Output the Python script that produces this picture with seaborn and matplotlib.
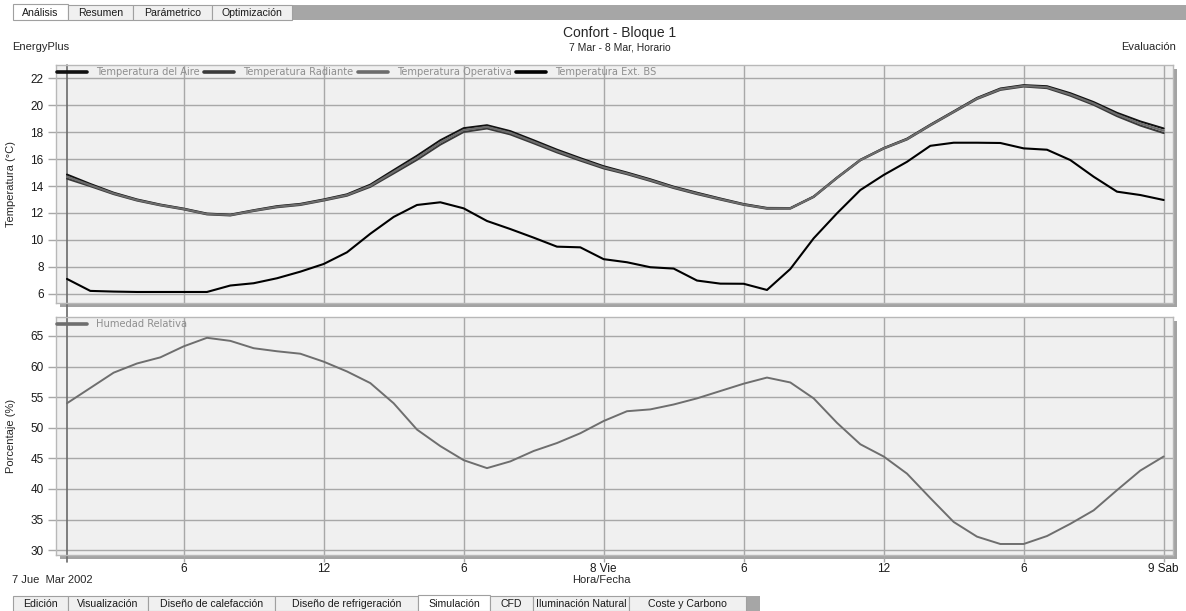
import matplotlib
matplotlib.use("Agg")
import matplotlib.pyplot as plt
import seaborn as sns
import pandas as pd
from matplotlib.patches import Rectangle
from matplotlib.lines import Line2D

# ---- data: hourly values, 7 Mar 01:00 .. 9 Mar 00:00 ----
hours = list(range(1, 49))

temp_aire = [14.85, 14.15, 13.50, 13.00, 12.62, 12.32, 11.95, 11.87, 12.20, 12.50,
             12.67, 13.00, 13.38, 14.10, 15.18, 16.25, 17.40, 18.30, 18.52, 18.08,
             17.40, 16.70, 16.07, 15.47, 15.00, 14.50, 13.95, 13.50, 13.07, 12.66,
             12.37, 12.36, 13.22, 14.63, 15.95, 16.82, 17.52, 18.56, 19.55, 20.55,
             21.25, 21.50, 21.42, 20.90, 20.24, 19.44, 18.80, 18.28]
temp_radiante = [14.55, 13.99, 13.40, 12.92, 12.56, 12.26, 11.89, 11.81, 12.14, 12.42,
                 12.59, 12.92, 13.28, 13.94, 14.94, 15.95, 17.08, 18.02, 18.28, 17.84,
                 17.18, 16.50, 15.89, 15.31, 14.88, 14.38, 13.85, 13.40, 12.99, 12.60,
                 12.31, 12.32, 13.18, 14.59, 15.91, 16.78, 17.46, 18.50, 19.49, 20.47,
                 21.15, 21.40, 21.28, 20.72, 20.04, 19.20, 18.50, 17.94]
temp_operativa = [14.70, 14.07, 13.45, 12.96, 12.59, 12.29, 11.92, 11.84, 12.17, 12.46,
                  12.63, 12.96, 13.33, 14.02, 15.06, 16.10, 17.24, 18.16, 18.40, 17.96,
                  17.29, 16.60, 15.98, 15.39, 14.94, 14.44, 13.90, 13.45, 13.03, 12.63,
                  12.34, 12.34, 13.20, 14.61, 15.93, 16.80, 17.49, 18.53, 19.52, 20.51,
                  21.20, 21.45, 21.35, 20.81, 20.14, 19.32, 18.65, 18.11]
temp_ext_bs = [7.09, 6.20, 6.15, 6.12, 6.12, 6.12, 6.12, 6.60, 6.77, 7.14,
               7.63, 8.20, 9.07, 10.45, 11.70, 12.59, 12.79, 12.34, 11.40, 10.80,
               10.16, 9.49, 9.44, 8.56, 8.33, 7.96, 7.86, 6.97, 6.74, 6.73,
               6.27, 7.83, 10.11, 11.97, 13.70, 14.82, 15.80, 16.99, 17.22, 17.22,
               17.20, 16.80, 16.70, 15.93, 14.69, 13.58, 13.33, 12.96]
humedad_relativa = [54.0, 56.5, 59.0, 60.5, 61.5, 63.3, 64.7, 64.2, 63.0, 62.5,
                    62.1, 60.8, 59.2, 57.3, 54.0, 49.7, 47.0, 44.7, 43.4, 44.5,
                    46.2, 47.5, 49.1, 51.1, 52.7, 53.0, 53.8, 54.8, 56.0, 57.2,
                    58.2, 57.4, 54.8, 50.8, 47.3, 45.3, 42.5, 38.5, 34.6, 32.2,
                    31.0, 31.0, 32.3, 34.3, 36.5, 39.8, 43.0, 45.3]

temp_names = ["Temperatura del Aire", "Temperatura Radiante",
              "Temperatura Operativa", "Temperatura Ext. BS"]
hum_name = "Humedad Relativa"

x_ticks = [6, 12, 18, 24, 30, 36, 42, 48]
x_tick_labels = ["6", "12", "6", "8 Vie", "6", "12", "6", "9 Sab"]
temp_ticks = [6, 8, 10, 12, 14, 16, 18, 20, 22]
hum_ticks = [30, 35, 40, 45, 50, 55, 60, 65]

top_tabs = ["Análisis", "Resumen", "Parámetrico", "Optimización"]
bottom_tabs = ["Edición", "Visualización", "Diseño de calefacción",
               "Diseño de refrigeración", "Simulación", "CFD",
               "Iluminación Natural", "Coste y Carbono"]

# ---- layout helpers (pixel coordinates measured from the top-left) ----
W, H = 1186, 611
sns.set_theme(style="white")
plt.rcParams["font.family"] = ["Liberation Sans", "DejaVu Sans"]

fig = plt.figure(figsize=(W / 100, H / 100), dpi=100)
fig.patch.set_facecolor("white")


def box(x0, y0, x1, y1):
    return [x0 / W, 1 - y1 / H, (x1 - x0) / W, (y1 - y0) / H]


def rect(x0, y0, x1, y1, fc, ec="none", lw=0.0, z=-1):
    fig.patches.append(Rectangle((x0 / W, 1 - y1 / H), (x1 - x0) / W, (y1 - y0) / H,
                                 transform=fig.transFigure, facecolor=fc,
                                 edgecolor=ec, linewidth=lw, zorder=z))


def tab_strip(labels, edges, y0, y1, selected, end_gray):
    for i, lab in enumerate(labels):
        xa, xb = edges[i], edges[i + 1]
        sel = (i == selected)
        rect(xa, y0 - (1 if sel else 0), xb, y1, "white" if sel else "#f0f0f0",
             ec="#a0a0a0", lw=0.8, z=2)
        fig.text((xa + xb) / 2 / W, 1 - ((y0 + y1) / 2 + 0.5) / H, lab,
                 ha="center", va="center", fontsize=7.6, color="#1a1a1a", zorder=3)
    rect(edges[-1], y0, end_gray, y1, "#a6a6a6", z=1)


# tab strips
tab_strip(top_tabs, [13, 68, 133, 212, 292], 5, 20, 0, W)
tab_strip(bottom_tabs, [13, 68, 148, 275, 418, 490, 533, 629, 746], 596, 611, 4, 760)

# titles
fig.text(620 / W, 1 - 33 / H, "Confort - Bloque 1", ha="center", va="center", fontsize=10)
fig.text(620 / W, 1 - 47 / H, "7 Mar - 8 Mar, Horario", ha="center", va="center", fontsize=7.5)
fig.text(12 / W, 1 - 47 / H, "EnergyPlus", ha="left", va="center", fontsize=8)
fig.text(1176 / W, 1 - 47 / H, "Evaluación", ha="right", va="center", fontsize=8)
fig.text(12 / W, 1 - 580 / H, "7 Jue  Mar 2002", ha="left", va="center", fontsize=8)
fig.text(601 / W, 1 - 580 / H, "Hora/Fecha", ha="center", va="center", fontsize=8)

# panel shadows
rect(60, 69, 1177, 307, "#a3a3a3")
rect(60, 321, 1177, 559, "#a3a3a3")

ax_t = fig.add_axes(box(56, 65, 1173, 303))
ax_h = fig.add_axes(box(56, 317, 1173, 555))

temp_colors = ["#111111", "#3a3a3a", "#6c6c6c", "#000000"]
temp_series = [temp_aire, temp_radiante, temp_operativa, temp_ext_bs]
df_t = pd.DataFrame({
    "Hora": hours * 4,
    "Valor": sum(temp_series, []),
    "Serie": [n for n in temp_names for _ in hours],
})
sns.lineplot(data=df_t, x="Hora", y="Valor", hue="Serie", hue_order=temp_names,
             palette=dict(zip(temp_names, temp_colors)), linewidth=1.5,
             ax=ax_t, legend=False)

df_h = pd.DataFrame({"Hora": hours, "Valor": humedad_relativa})
sns.lineplot(data=df_h, x="Hora", y="Valor", color="#6e6e6e", linewidth=1.4,
             ax=ax_h, legend=False)

grid_c = "#a8a8a8"
for ax, yt, ylim in [(ax_t, temp_ticks, (5.3, 23.0)), (ax_h, hum_ticks, (29.2, 68.1))]:
    ax.set_facecolor("#f0f0f0")
    ax.set_xlim(0.53, 48.4)
    ax.set_ylim(*ylim)
    ax.set_xticks(x_ticks)
    ax.set_yticks(yt)
    ax.grid(True, color=grid_c, linewidth=1.0)
    ax.set_axisbelow(True)
    for s in ax.spines.values():
        s.set_color("#b8b8b8")
        s.set_linewidth(1.0)
    ax.tick_params(axis="y", left=True, length=6, width=1, color=grid_c,
                   labelsize=8.5, pad=3, labelcolor="#1a1a1a")
    ax.set_xlabel("")

ax_t.tick_params(axis="x", bottom=False, labelbottom=False)
ax_h.tick_params(axis="x", bottom=True, length=5, width=1, color=grid_c,
                 labelsize=8.5, pad=1, labelcolor="#1a1a1a")
ax_h.set_xticklabels(x_tick_labels)

ax_t.set_ylabel("Temperatura (°C)", fontsize=8)
ax_h.set_ylabel("Porcentaje (%)", fontsize=8)
ax_t.yaxis.set_label_coords(-0.036, 0.5)
ax_h.yaxis.set_label_coords(-0.036, 0.5)

# start-of-period marker running through both panels
ax_t.axvline(hours[0], ymin=-0.06, ymax=1, color="#6a6a6a", lw=1.2, clip_on=False, zorder=1)
ax_h.axvline(hours[0], ymin=-0.03, ymax=1, color="#6a6a6a", lw=1.2, clip_on=False, zorder=1)

# legends along the top edge of each panel
leg_kw = dict(loc="upper left", bbox_to_anchor=(0.0, 0.996), frameon=False,
              handlelength=3.0, handletextpad=0.95, borderaxespad=0.0,
              borderpad=0.15, labelcolor="#8e8e8e", prop={"family": "DejaVu Sans", "size": 7.1})
handles_t = [Line2D([], [], color=c, lw=2.6) for c in temp_colors]
ax_t.legend(handles_t, temp_names, ncol=4, columnspacing=0.45, **leg_kw)
ax_h.legend([Line2D([], [], color="#6e6e6e", lw=2.6)], [hum_name], **leg_kw)

fig.savefig("out.png", dpi=100, facecolor="white")
